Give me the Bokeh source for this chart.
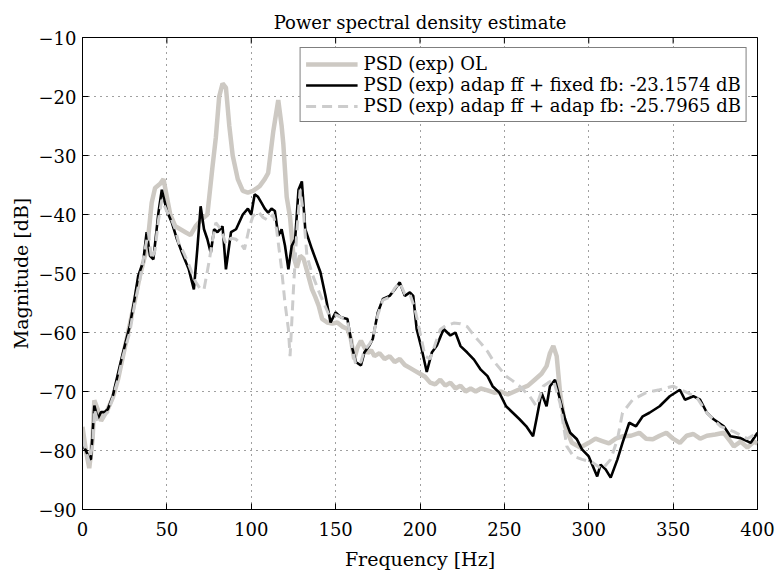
import math
from bokeh.plotting import figure
from bokeh.models import FixedTicker, Range1d, Legend, LegendItem
from bokeh.embed import file_html
from bokeh.resources import INLINE

title_text = "Power spectral density estimate"
x_label = "Frequency [Hz]"
y_label = "Magnitude [dB]"
x_ticks = [0, 50, 100, 150, 200, 250, 300, 350, 400]
y_ticks = [-90, -80, -70, -60, -50, -40, -30, -20, -10]
y_tick_labels = ["\u221290", "\u221280", "\u221270", "\u221260", "\u221250", "\u221240", "\u221230", "\u221220", "\u221210"]

labels = ["PSD (exp) OL",
          "PSD (exp) adap ff + fixed fb: -23.1574 dB",
          "PSD (exp) adap ff + adap fb: -25.7965 dB"]

ol_f = [0, 2, 4, 6, 7, 9, 11, 13, 15, 18, 21, 24, 27, 30, 34, 37, 39, 41, 43, 46, 48, 50, 52, 55, 58, 61, 64, 67, 70, 74, 77, 79, 81, 83, 85, 87, 89, 92, 95, 98, 101, 105, 108, 110, 113, 116, 118, 119, 121, 123, 125, 127, 129, 131, 133, 136, 138, 140, 142, 145, 148, 151, 154, 157, 159, 161, 163, 165, 167, 169, 171, 173, 176, 179, 182, 185, 188, 191, 194, 197, 200, 203, 206, 209, 212, 215, 218, 221, 224, 227, 230, 233, 236, 240, 244, 248, 252, 256, 260, 264, 268, 272, 275, 277, 279, 281, 283, 286, 290, 295, 300, 304, 308, 312, 316, 320, 325, 330, 334, 338, 342, 346, 350, 354, 358, 362, 366, 370, 375, 380, 384, 386, 390, 394, 398, 400]
ol_db = [-76, -80, -83, -78, -71.5, -73, -75, -74, -73, -71, -68, -64, -60, -56, -50.4, -47, -43.6, -38, -35.5, -34.8, -34, -37, -40, -42, -42.5, -43, -43.5, -42, -41, -40, -32, -27, -20, -17.8, -18.5, -25, -30, -34, -36, -36.3, -36, -35.2, -34, -33, -26, -20.6, -25, -28, -37, -40.5, -47, -49, -47, -47.5, -49.5, -52.7, -54, -55.5, -57.7, -58.3, -58.5, -58.3, -59, -59.4, -61, -64.5, -62.5, -61.4, -62.5, -63.5, -63, -64, -63.5, -64.5, -64, -65, -64.5, -65.5, -66, -66.5, -67, -67.5, -68.5, -68.8, -68, -69, -68.5, -69.5, -69, -70, -69.5, -70, -69.5, -69.8, -70.2, -70, -70.5, -70, -69.5, -69, -68, -67, -65.7, -63.5, -62.3, -64, -70.2, -75.9, -78.7, -79.5, -78.7, -78, -78.4, -78.8, -78, -77.6, -77.5, -77, -78, -78.1, -77.5, -77, -78, -78.7, -77.5, -77.2, -78, -77.5, -77.3, -77, -78.5, -79.3, -78.5, -79.5, -78.5, -78.8]

fixed_f = [0, 2, 4, 5, 7, 9, 11, 13, 15, 18, 21, 24, 28, 31, 33, 36, 38, 40, 42, 45, 47, 50, 53, 56, 59, 63, 66, 68, 70, 72, 74, 76, 78, 80, 83, 85, 88, 91, 95, 98, 100, 102, 104, 106, 108, 110, 112, 114, 116, 118, 120, 122, 124, 126, 128, 130, 132, 136, 141, 144, 147, 150, 153, 157, 160, 162, 165, 167, 170, 172, 175, 178, 182, 185, 188, 191, 194, 196, 198, 201, 204, 207, 210, 214, 218, 221, 224, 228, 232, 236, 240, 243, 247, 251, 255, 259, 263, 267, 269, 272, 275, 277, 280, 283, 286, 289, 293, 296, 300, 305, 307, 310, 313, 317, 320, 324, 328, 332, 336, 342, 348, 354, 357, 362, 366, 370, 374, 380, 384, 390, 396, 400]
fixed_db = [-79, -80, -81.4, -81.5, -72.4, -74.6, -73.5, -73.5, -73, -70.7, -67, -63.4, -58.9, -54, -50.4, -48, -43, -47, -47.6, -39.7, -35.8, -39.4, -41.4, -44.2, -46.5, -49.3, -52.7, -46, -38.6, -42.5, -44.2, -46.5, -42.5, -43, -42, -49.3, -43, -42.5, -40, -39, -40, -36.6, -37, -38, -39, -39.7, -39, -39.4, -43.6, -42.5, -45.3, -49.3, -45.3, -44.2, -35.8, -34.4, -42.5, -45.9, -49.8, -53.8, -58.3, -56.6, -57.4, -57.7, -62.8, -65, -65.6, -63.4, -62.2, -61.1, -56.6, -54.3, -53.8, -52.7, -51.5, -53.8, -53.2, -53.8, -59.4, -62.8, -66.7, -63.4, -62.2, -59.4, -60.5, -60, -62.3, -63.4, -64.6, -66.3, -67.4, -69.1, -70.2, -72.5, -73.6, -74.7, -75.9, -77.6, -74.7, -70.2, -72.5, -69.1, -68, -71.4, -74.7, -77, -78.1, -79.8, -81, -84.4, -82.4, -83.2, -84.6, -81.5, -78.7, -75.3, -75.9, -74.2, -73.6, -72.5, -70.8, -69.7, -71.4, -70.8, -71.4, -73.6, -74.7, -75.9, -77.6, -77.9, -78.7, -77]

adap_f = [0, 2, 4, 6, 7, 9, 11, 13, 15, 18, 21, 24, 28, 31, 34, 37, 39, 41, 43, 45, 47, 50, 52, 55, 57, 60, 63, 67, 70, 72, 75, 77, 79, 82, 85, 88, 91, 94, 96, 99, 101, 104, 107, 110, 113, 115, 118, 120, 122, 123, 125, 127, 129, 131, 133, 136, 140, 143, 146, 150, 153, 157, 160, 162, 165, 167, 170, 172, 175, 178, 182, 185, 188, 191, 194, 197, 200, 203, 206, 209, 212, 215, 220, 224, 228, 232, 236, 240, 243, 247, 251, 255, 259, 265, 269, 273, 276, 279, 283, 287, 291, 296, 302, 308, 313, 317, 320, 326, 334, 342, 350, 357, 364, 370, 378, 386, 394, 400]
adap_db = [-78, -80, -82, -79, -73, -75, -75, -74, -73.5, -71, -68, -64, -60, -55, -51, -46, -43, -47.6, -46, -41, -37.5, -39.5, -40.3, -42.5, -44.8, -46.5, -48.5, -51.4, -52.7, -52.7, -48, -44.5, -41.4, -42.5, -45, -44, -44.2, -45, -45.9, -42, -40.3, -39.5, -40.5, -41, -40, -42.5, -49.3, -55, -59.4, -64, -52.7, -43, -35.8, -40, -47, -50, -53, -55, -57, -57, -57.4, -58, -63, -65.5, -65, -63, -62, -61, -57, -54.5, -54, -52.5, -51.5, -53.5, -53.5, -56, -60, -64, -64.5, -62, -59.5, -58.9, -58.4, -58.5, -59, -60.5, -61.8, -63.2, -64.6, -66, -67.4, -68.2, -69.1, -70.8, -72.5, -69.1, -68.5, -68, -72, -79.3, -81, -81.5, -82, -83.2, -81.5, -78.1, -73.6, -71.4, -70.2, -69.7, -69.1, -70, -71, -73.6, -75.9, -76.8, -78, -77]

FONT = "DejaVu Serif"
FS = "18px"

p = figure(width=777, height=579, output_backend="svg", toolbar_location=None,
           x_range=Range1d(0, 400), y_range=Range1d(-90, -10),
           min_border_left=82, min_border_right=20, min_border_top=37, min_border_bottom=70)

p.title.text = title_text
p.title.align = "center"
p.title.text_font = FONT
p.title.text_font_size = FS
p.title.text_font_style = "normal"
p.title.text_color = "black"
p.title.text_line_height = 1.0
p.title.standoff = 10

p.outline_line_color = "black"
p.outline_line_width = 1

for ax in (p.xaxis[0], p.yaxis[0]):
    ax.major_label_text_font = FONT
    ax.major_label_text_font_size = FS
    ax.major_label_text_color = "black"
    ax.axis_label_text_font = FONT
    ax.axis_label_text_font_size = "19px"
    ax.axis_label_text_font_style = "normal"
    ax.axis_label_text_color = "black"
    ax.axis_line_color = "black"
    ax.major_tick_line_color = "black"
    ax.major_tick_in = 6
    ax.major_tick_out = 0
    ax.minor_tick_line_color = None

p.xaxis[0].ticker = FixedTicker(ticks=x_ticks)
p.yaxis[0].ticker = FixedTicker(ticks=y_ticks)
p.yaxis[0].major_label_overrides = {t: l for t, l in zip(y_ticks, y_tick_labels)}
p.xaxis[0].axis_label = x_label
p.yaxis[0].axis_label = y_label
p.xaxis[0].major_label_standoff = 12
p.yaxis[0].major_label_standoff = 6
p.xaxis[0].axis_label_standoff = 9
p.yaxis[0].axis_label_standoff = 4

p.xgrid.ticker = FixedTicker(ticks=x_ticks)
p.ygrid.ticker = FixedTicker(ticks=y_ticks)
for g in (p.xgrid[0], p.ygrid[0]):
    g.grid_line_color = "black"
    g.grid_line_alpha = 0.75
    g.grid_line_dash = "1 5"
    g.grid_line_width = 1

# inward tick marks on the top and right edges of the box
p.scatter(x=x_ticks, y=[p.y_range.end] * len(x_ticks), marker="dash", size=12,
          angle=math.pi / 2, line_color="black", line_width=1)
p.scatter(x=[p.x_range.end] * len(y_ticks), y=y_ticks, marker="dash", size=12,
          line_color="black", line_width=1)

r1 = p.line(ol_f, ol_db, line_color="#cdc9c3", line_width=4.5)
r2 = p.line(fixed_f, fixed_db, line_color="black", line_width=2.6)
r3 = p.line(adap_f, adap_db, line_color="#cccccc", line_width=3, line_dash="10 6")

legend = Legend(items=[LegendItem(label=labels[0], renderers=[r1]),
                       LegendItem(label=labels[1], renderers=[r2]),
                       LegendItem(label=labels[2], renderers=[r3])],
                location="top_right")
legend.margin = 10
legend.padding = 5
legend.spacing = 0
legend.glyph_width = 52
legend.glyph_height = 20
legend.label_height = 20
legend.label_standoff = 6
legend.label_text_font = FONT
legend.label_text_font_size = FS
legend.label_text_color = "black"
legend.border_line_color = "black"
legend.border_line_width = 1
legend.background_fill_alpha = 1
p.add_layout(legend, "center")

open("out.html", "w").write(file_html(p, INLINE))
